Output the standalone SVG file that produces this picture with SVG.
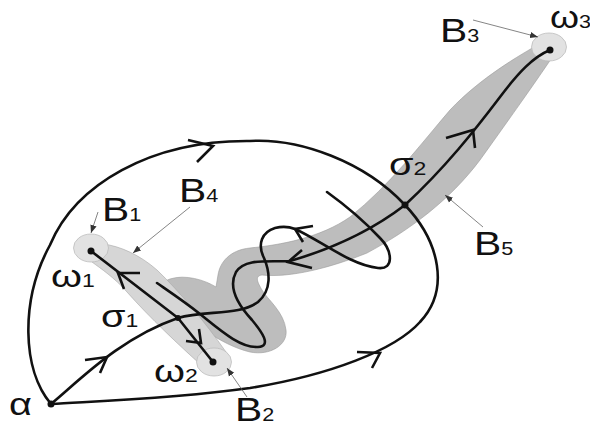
<svg xmlns="http://www.w3.org/2000/svg" width="590" height="428" viewBox="0 0 590 428">
<defs>
<style>
.traj{fill:none;stroke:#111;stroke-width:2.6;stroke-linecap:round;stroke-linejoin:round}
.chev{fill:none;stroke:#111;stroke-width:2.6;stroke-linecap:butt;stroke-linejoin:miter}
.lead{fill:none;stroke:#666;stroke-width:0.8}
.dot{fill:#111}
.basin{fill:#e2e2e2;stroke:#b8b8b8;stroke-width:0.7}
.lbl{font-family:"Liberation Sans",Arial,sans-serif;fill:#111}
.big{font-size:34px}
.sub{font-size:18px}
.gr{font-size:31px}
</style>
<marker id="ah" viewBox="0 0 10 10" refX="10" refY="5" markerWidth="8" markerHeight="8" markerUnits="userSpaceOnUse" orient="auto">
<path d="M0,1 L10,5 L0,9 Z" fill="#333"/>
</marker>
</defs>
<rect width="590" height="428" fill="#fff"/>

<g id="region-B5">
<path d="M541,43 C520,55 480,78 450,110 C420,145 390,185 350,217 C320,238 280,245 250,248 C230,250 220,262 218,275 L216,287 C205,280 185,274 170,279 C158,283 160,295 170,303 C190,320 220,345 250,352 C270,356 288,345 286,330 C284,312 268,300 262,290 C258,283 254,276 262,275 C290,278 330,268 367,253 C410,230 450,200 480,160 C505,125 530,90 549,62 C556,52 552,40 541,43 Z" fill="#bdbdbd" stroke="#9a9a9a" stroke-width="0.6"/>
</g>

<g id="region-B4">
<path d="M103,244 C120,246 140,255 157,270 C180,292 205,322 226,352 L200,364 C180,346 150,318 127,292 C115,278 100,268 92,262 Z" fill="#d6d6d6" stroke="#a8a8a8" stroke-width="0.6"/>
</g>

<g id="node-omega1">
<ellipse class="basin" cx="91" cy="248" rx="17.5" ry="14"/>
<circle class="dot" cx="91" cy="251" r="3.5"/>
<text class="lbl gr" transform="translate(51,287) scale(1.28,1)">ω<tspan class="sub">1</tspan></text>
</g>
<g id="node-omega2">
<ellipse class="basin" cx="214" cy="362" rx="17.5" ry="14"/>
<circle class="dot" cx="213" cy="362" r="3.5"/>
<text class="lbl gr" transform="translate(154,382) scale(1.28,1)">ω<tspan class="sub">2</tspan></text>
</g>
<g id="node-omega3">
<ellipse class="basin" cx="549" cy="47" rx="17.5" ry="14"/>
<circle class="dot" cx="550" cy="50" r="3.5"/>
<text class="lbl gr" transform="translate(550,28) scale(1.2,1)">ω<tspan class="sub">3</tspan></text>
</g>

<g id="connectors">
<path class="traj" d="M51,404 C22,370 20,300 50,245 C75,185 150,140 250,141 C300,138 365,162 405,205 C440,242 450,290 420,322 C395,350 330,375 250,388 C170,399 100,401 51,404"/>
<path class="traj" d="M51,404 C80,380 120,338 178,318 C205,310 240,316 258,302 C272,290 270,272 264,258 C257,244 262,232 275,228 C283,226 290,227 295,229 C320,240 350,265 378,268 C395,270 392,250 380,238 C365,222 345,205 327,192"/>
<path class="traj" d="M405,205 C375,228 335,248 290,261 C268,262 245,258 236,272 C228,287 238,305 252,320 C262,332 272,346 258,347 C240,348 220,330 200,314 C185,302 170,292 157,283"/>
<path class="traj" d="M405,205 C445,168 475,130 500,97 C518,73 533,57 550,50"/>
<path class="traj" d="M178,318 L91,251"/>
<path class="traj" d="M178,318 L213,362"/>

<polyline class="chev" points="188,140 213,146 197,162"/>
<polyline class="chev" points="357,352 380,353 372,368"/>
<polyline class="chev" points="85,360 107,357 100,373"/>
<polyline class="chev" points="140,273 118,273 124,289"/>
<polyline class="chev" points="186,341 201,343 199,329"/>
<polyline class="chev" points="302,250 288,262 312,268"/>
<polyline class="chev" points="313,226 295,229 303,242"/>
<polyline class="chev" points="446,138 473,130 475,148"/>

<line class="lead" x1="98" y1="212" x2="91" y2="233" marker-end="url(#ah)"/>
<line class="lead" x1="190" y1="207" x2="133" y2="253" marker-end="url(#ah)"/>
<line class="lead" x1="247" y1="397" x2="227" y2="368" marker-end="url(#ah)"/>
<line class="lead" x1="473" y1="20" x2="538" y2="37" marker-end="url(#ah)"/>
<line class="lead" x1="483" y1="227" x2="445" y2="195" marker-end="url(#ah)"/>
</g>

<g id="node-alpha">
<circle class="dot" cx="51" cy="404" r="3.5"/>
<text class="lbl gr" transform="translate(9,415) scale(1.28,1)">α</text>
</g>
<g id="node-sigma1">
<circle class="dot" cx="178" cy="318" r="3"/>
<text class="lbl gr" transform="translate(101,327) scale(1.28,1)">σ<tspan class="sub">1</tspan></text>
</g>
<g id="node-sigma2">
<circle class="dot" cx="405" cy="205" r="3.5"/>
<text class="lbl gr" transform="translate(389,175) scale(1.28,1)">σ<tspan class="sub">2</tspan></text>
</g>

<g id="label-B1"><text class="lbl big" transform="translate(102,221) scale(1.2,1)">B<tspan class="sub">1</tspan></text></g>
<g id="label-B2"><text class="lbl big" transform="translate(235,421) scale(1.2,1)">B<tspan class="sub">2</tspan></text></g>
<g id="label-B3"><text class="lbl big" transform="translate(440,42) scale(1.2,1)">B<tspan class="sub">3</tspan></text></g>
<g id="label-B4"><text class="lbl big" transform="translate(179,202) scale(1.2,1)">B<tspan class="sub">4</tspan></text></g>
<g id="label-B5"><text class="lbl big" transform="translate(474,255) scale(1.2,1)">B<tspan class="sub">5</tspan></text></g>
</svg>
